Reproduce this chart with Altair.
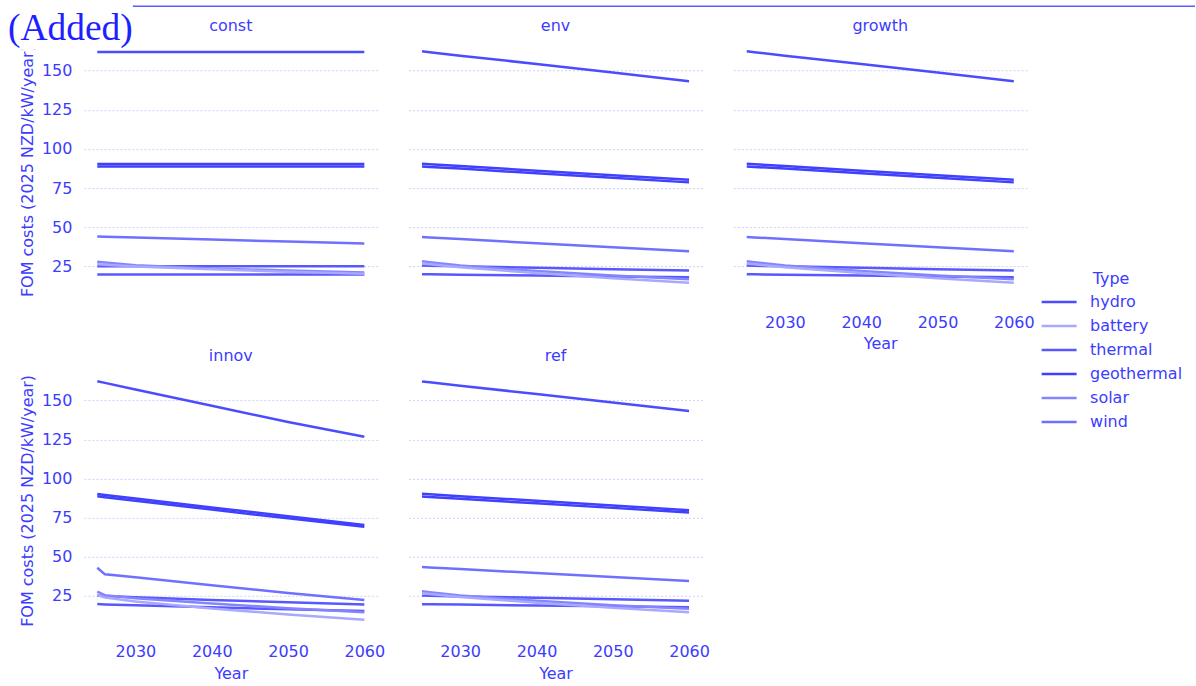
import altair as alt
import pandas as pd

# ---------------- data ----------------
years = [2025, 2026, 2030, 2040, 2050, 2060]
scenarios = ["const", "env", "growth", "innov", "ref"]
techs = ["hydro", "geothermal_a", "geothermal_b", "wind", "thermal_a", "thermal_b", "solar", "battery"]
tech_types = ["hydro", "geothermal", "geothermal", "wind", "thermal", "thermal", "solar", "battery"]
type_order = ["hydro", "battery", "thermal", "geothermal", "solar", "wind"]
type_colors = ["#4c4cff", "#a8a8ff", "#5858ff", "#4040ff", "#8484ff", "#7070ff"]

const_vals = {
    "hydro":        [162.0, 162.0, 162.0, 162.0, 162.0, 162.0],
    "geothermal_a": [90.3, 90.3, 90.3, 90.3, 90.3, 90.3],
    "geothermal_b": [88.8, 88.8, 88.8, 88.8, 88.8, 88.8],
    "wind":         [44.0, 43.9, 43.3, 42.0, 40.8, 39.6],
    "thermal_a":    [25.0, 25.0, 25.0, 25.0, 25.0, 25.0],
    "thermal_b":    [19.7, 19.7, 19.7, 19.7, 19.7, 19.7],
    "solar":        [27.8, 27.3, 25.6, 23.6, 22.2, 21.0],
    "battery":      [26.2, 25.9, 24.8, 23.0, 21.5, 20.2],
}
env_vals = {
    "hydro":        [162.4, 161.8, 159.6, 154.3, 148.9, 143.3],
    "geothermal_a": [90.5, 90.2, 89.0, 86.1, 83.2, 80.2],
    "geothermal_b": [88.8, 88.5, 87.4, 84.4, 81.5, 78.6],
    "wind":         [43.7, 43.4, 42.4, 39.7, 37.1, 34.5],
    "thermal_a":    [25.4, 25.3, 24.9, 24.0, 23.1, 22.3],
    "thermal_b":    [19.9, 19.8, 19.6, 19.0, 18.5, 17.9],
    "solar":        [28.1, 27.5, 25.4, 21.9, 19.0, 16.6],
    "battery":      [26.8, 26.2, 24.3, 20.6, 17.3, 14.5],
}
growth_vals = {
    "hydro":        [162.4, 161.8, 159.6, 154.3, 148.9, 143.3],
    "geothermal_a": [90.5, 90.2, 89.0, 86.1, 83.2, 80.2],
    "geothermal_b": [88.8, 88.5, 87.4, 84.4, 81.5, 78.6],
    "wind":         [43.7, 43.4, 42.4, 39.7, 37.1, 34.5],
    "thermal_a":    [25.4, 25.3, 24.9, 24.0, 23.1, 22.3],
    "thermal_b":    [19.9, 19.8, 19.6, 19.0, 18.5, 17.9],
    "solar":        [28.1, 27.5, 25.4, 21.9, 19.0, 16.6],
    "battery":      [26.8, 26.2, 24.3, 20.6, 17.3, 14.5],
}
innov_vals = {
    "hydro":        [162.3, 161.2, 157.0, 146.6, 136.2, 126.8],
    "geothermal_a": [90.2, 89.6, 87.3, 81.6, 75.9, 70.4],
    "geothermal_b": [88.7, 88.1, 85.8, 80.2, 74.6, 69.2],
    "wind":         [43.0, 38.8, 37.0, 31.8, 26.9, 22.4],
    "thermal_a":    [25.3, 24.9, 24.1, 22.4, 20.9, 19.6],
    "thermal_b":    [19.8, 19.6, 19.0, 17.7, 16.5, 15.4],
    "solar":        [27.7, 25.5, 23.5, 20.2, 17.2, 14.6],
    "battery":      [25.6, 24.0, 21.5, 17.0, 13.1, 9.7],
}
ref_vals = {
    "hydro":        [162.1, 161.6, 159.4, 154.1, 148.7, 143.2],
    "geothermal_a": [90.3, 90.0, 88.8, 85.8, 82.8, 79.8],
    "geothermal_b": [88.6, 88.3, 87.1, 84.2, 81.3, 78.4],
    "wind":         [43.5, 43.2, 42.2, 39.6, 37.1, 34.6],
    "thermal_a":    [25.2, 25.1, 24.7, 23.8, 22.9, 22.0],
    "thermal_b":    [19.7, 19.7, 19.5, 18.9, 18.4, 17.8],
    "solar":        [28.0, 27.4, 25.3, 21.9, 19.1, 16.8],
    "battery":      [26.8, 26.2, 24.3, 20.7, 17.4, 14.6],
}
scenario_vals = {"const": const_vals, "env": env_vals, "growth": growth_vals,
                 "innov": innov_vals, "ref": ref_vals}

rows = []
for s in scenarios:
    for t, ty in zip(techs, tech_types):
        for yr, v in zip(years, scenario_vals[s][t]):
            rows.append({"Scenario": s, "Tech": t, "Type": ty, "Year": yr, "Value": v})
df = pd.DataFrame(rows)

# ---------------- style ----------------
TXT = "#3c3cff"
FONT = "DejaVu Sans"
W, H = 294, 263

xscale = alt.Scale(domain=[2023.25, 2061.75], nice=False, zero=False)
yscale = alt.Scale(domain=[2.1, 170.1], nice=False, zero=False)
xticks = [2030, 2040, 2050, 2060]
yticks = [25, 50, 75, 100, 125, 150]

color = alt.Color(
    "Type:N",
    scale=alt.Scale(domain=type_order, range=type_colors),
    legend=alt.Legend(
        title="Type", orient="none", legendX=957, legendY=232,
        titleAnchor="middle", symbolType="stroke", symbolSize=1225,
        symbolStrokeWidth=2.5, labelOffset=12, clipHeight=20, rowPadding=4,
        labelFontSize=16, titleFontSize=16, titleFontWeight="normal",
        labelColor=TXT, titleColor=TXT, labelFont=FONT, titleFont=FONT,
        titlePadding=5,
    ),
)


def panel(scen, show_x, show_y):
    d = df[df.Scenario == scen]
    if show_x:
        x_axis = alt.Axis(values=xticks, format="d", grid=False, title="Year",
                          labelPadding=12, titlePadding=6)
        xenc = alt.X("Year:Q", scale=xscale, axis=x_axis)
    else:
        xenc = alt.X("Year:Q", scale=xscale, axis=None)
    if show_y:
        y_axis = alt.Axis(values=yticks, title="FOM costs (2025 NZD/kW/year)",
                          labelPadding=12, titlePadding=6)
    else:
        y_axis = alt.Axis(values=yticks, labels=False, title="")
    line = alt.Chart(d).mark_line(strokeWidth=2.5).encode(
        x=xenc,
        y=alt.Y("Value:Q", scale=yscale, axis=y_axis),
        color=color,
        detail="Tech:N",
    )
    return line.properties(width=W, height=H, title=alt.Title(scen))


# annotation overlay, drawn from the empty 6th grid cell (origin at column 3, row 2)
anno = pd.DataFrame({"label": ["(Added)"]})
cover = alt.Chart(anno).mark_rect(fill="white").encode(
    x=alt.value(-734), x2=alt.value(-601), y=alt.value(-369), y2=alt.value(-319.5)
)
added = alt.Chart(anno).mark_text(
    font="Liberation Serif", fontSize=37.5, color="#1f1fff", align="left", baseline="alphabetic"
).encode(x=alt.value(-726), y=alt.value(-329), text="label:N")
topline = alt.Chart(anno).mark_rule(color="#5a5aff", strokeWidth=1.5).encode(
    x=alt.value(-601), x2=alt.value(462), y=alt.value(-363)
)
p6 = alt.layer(cover, added, topline).properties(width=W, height=H)

p1 = panel("const", False, True)
p2 = panel("env", False, False)
p3 = panel("growth", True, False)
p4 = panel("innov", True, True)
p5 = panel("ref", True, False)

chart = alt.concat(p1, p2, p3, p4, p5, p6, columns=3, spacing={"row": 67, "column": 31},
                   bounds="flush").resolve_scale(color="shared").properties(
    padding=0
).configure_view(stroke=None).configure_axis(
    domain=False, ticks=False, labelFont=FONT, titleFont=FONT,
    labelFontSize=16, titleFontSize=16, titleFontWeight="normal",
    labelColor=TXT, titleColor=TXT,
    gridColor="#d0d0ff", gridDash=[2, 2], gridWidth=1,
).configure_axisX(grid=False).configure_title(
    font=FONT, fontSize=16, fontWeight="normal", color=TXT, offset=5, anchor="middle"
)

chart.save("out.html", embed_options={"renderer": "svg", "actions": False})
